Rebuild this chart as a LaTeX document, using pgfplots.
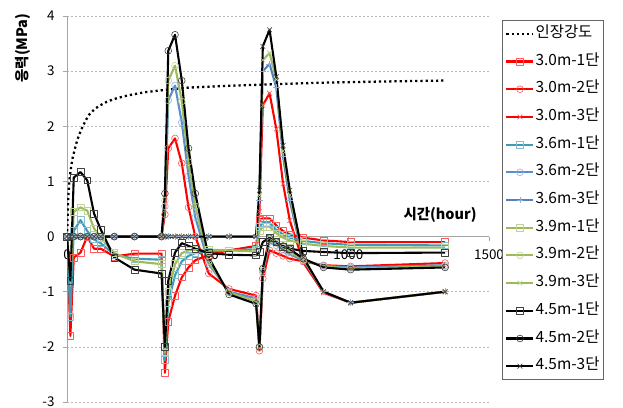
\documentclass[border=0pt]{standalone}
\usepackage{fontspec}
\setmainfont{Noto Sans CJK KR}
\usepackage{pgfplots}
\usepackage{pgfplotstable}
\pgfplotsset{compat=1.18}
\definecolor{cR}{HTML}{FF0000}
\definecolor{cT}{HTML}{3E9BB5}
\definecolor{cB2}{HTML}{5A8ECC}
\definecolor{cB3}{HTML}{4F81BD}
\definecolor{cG}{HTML}{9BBB59}
\definecolor{cK}{HTML}{000000}

\pgfplotstableread{
t     R1     T1     G1     K1     R2     B2     G2     K2     R3     B3     G3     K3
0     0      0      0      0      0      0      0      0      0      0      0      0
12   -1.80  -1.45  -0.80  -0.80   0      0      0      0      0      0      0      0
24   -0.38   0.10   0.45   1.07   0      0      0      0      0      0      0      0
48   -0.29   0.30   0.53   1.17   0      0      0      0      0      0      0      0
72    0.00   0.10   0.47   1.02   0      0      0      0      0      0      0      0
96   -0.22  -0.05   0.15   0.42   0      0      0      0      0      0      0      0
120  -0.22  -0.12  -0.02   0.13   0      0      0      0      0      0      0      0
168  -0.36  -0.33  -0.30  -0.38   0      0      0      0      0      0      0      0
240  -0.31  -0.40  -0.45  -0.60   0      0      0      0      0      0      0      0
336  -0.31  -0.42  -0.50  -0.67   0      0      0      0      0      0      0      0
348  -2.47  -2.24  -2.10  -2.00   0.40   0.55   0.65   0.78   0      0      0      0
360  -1.54  -1.20  -1.00  -0.80   1.60   2.47   2.83   3.37   0      0      0      0
384  -1.07  -0.70  -0.50  -0.29   1.78   2.74   3.10   3.66   0      0      0      0
408  -0.74  -0.45  -0.30  -0.12   1.33   2.07   2.45   2.83   0      0      0      0
432  -0.56  -0.35  -0.25  -0.17   0.53   1.10   1.35   1.60   0      0      0      0
456  -0.43  -0.30  -0.24  -0.22   0.00   0.35   0.55   0.78   0      0      0      0
504  -0.33  -0.27  -0.24  -0.30  -0.67  -0.50  -0.45  -0.38   0      0      0      0
576  -0.25  -0.25  -0.25  -0.33  -0.95  -1.00  -1.02  -1.05   0      0      0      0
672  -0.17  -0.23  -0.27  -0.34  -1.07  -1.12  -1.17  -1.22   0      0      0      0
684   0.30   0.18   0.10  -0.28  -2.07  -2.02  -2.02  -2.00   0.45   0.65   0.75   0.84
696   0.33   0.25   0.18  -0.10  -0.76  -0.65  -0.62  -0.58   2.38   3.00   3.20   3.45
720   0.33   0.25   0.18  -0.02  -0.25  -0.10  -0.06  -0.03   2.60   3.13   3.33   3.75
744   0.20   0.12   0.06  -0.10  -0.30  -0.16  -0.12  -0.10   1.95   2.70   2.85   2.90
768   0.10   0.04  -0.02  -0.18  -0.35  -0.24  -0.20  -0.17   0.96   1.45   1.55   1.65
792   0.04  -0.02  -0.07  -0.22  -0.40  -0.32  -0.28  -0.23   0.29   0.65   0.75   0.84
840  -0.02  -0.08  -0.13  -0.26  -0.45  -0.43  -0.42  -0.40  -0.47  -0.42  -0.40  -0.38
912  -0.07  -0.12  -0.17  -0.28  -0.52  -0.53  -0.54  -0.56  -1.02  -1.00  -1.00  -1.00
1008 -0.10  -0.15  -0.20  -0.30  -0.54  -0.56  -0.58  -0.60  -1.20  -1.20  -1.20  -1.20
1344 -0.10  -0.16  -0.20  -0.29  -0.48  -0.52  -0.54  -0.56  -1.00  -1.00  -1.00  -1.00
}\data

\pgfplotstableread{
t     s
0     0
2     0.30
4     0.67
7     0.90
10    1.09
15    1.28
21    1.45
30    1.63
37    1.76
46    1.88
56    2.00
68    2.12
80    2.22
100   2.32
118   2.38
140   2.44
165   2.49
200   2.54
236   2.58
280   2.62
331   2.65
425   2.70
550   2.73
720   2.76
900   2.79
1100  2.81
1347  2.83
}\strength

\begin{document}
\begin{tikzpicture}
\path[use as bounding box] (-67bp,-6bp) rectangle (556bp,402bp);
\begin{axis}[
  at={(0bp,0bp)}, anchor=south west,
  width=422bp, height=386bp, scale only axis,
  xmin=0, xmax=1500, ymin=-3, ymax=4,
  xtick={0,500,1000,1500}, ytick={-3,-2,-1,0,1,2,3,4},
  axis x line=middle, axis y line=left,
  axis line style={-, draw=gray!70, line width=0.6bp},
  hide obscured x ticks=false, hide obscured y ticks=false,
  tick style={draw=gray!70, line width=0.6bp},
  major tick length=4bp, tick align=outside,
  ymajorgrids, grid style={draw=gray!55, dash pattern=on 2bp off 2bp, line width=0.6bp},
  /pgf/number format/assume math mode=true,
  /pgf/number format/set thousands separator={},
  ticklabel style={font=\fontsize{13.5}{15}\selectfont},
  yticklabel style={xshift=-5bp},
  xticklabel style={yshift=-6bp},
  xlabel={시간(hour)},
  xlabel style={at={(axis description cs:0.884,0.4845)}, anchor=center, font=\bfseries\fontsize{14.5}{16}\selectfont},
  ylabel={응력(MPa)},
  ylabel style={at={(axis description cs:-0.104,1.0155)}, rotate=0, anchor=east, font=\bfseries\fontsize{14.5}{16}\selectfont},
  legend style={at={(axis description cs:1,1)}, anchor=north west, xshift=13bp, yshift=-4bp,
    draw=gray!80!black, line width=0.6bp, font=\fontsize{15.5}{17}\selectfont,
    inner xsep=3bp, inner ysep=6bp, row sep=12.7bp,
    nodes={inner sep=1bp, text height=10bp, text depth=3bp}},
  legend cell align=left,
  legend image code/.code={\draw[mark repeat=2,mark phase=2] plot coordinates {(0bp,0bp) (13.5bp,0bp) (27bp,0bp)};},
  every axis plot/.append style={line width=2.1bp, line join=round},
  mark size=3.4bp,
]
\addplot[black, line width=2.3bp, dash pattern=on 2.2bp off 3bp] table[x=t,y=s]{\strength};
\addlegendentry{인장강도}
\addplot[cR, mark=square, mark options={solid, draw=cR!65, fill=none, line width=0.6bp}] table[x=t,y=R1]{\data};
\addlegendentry{3.0m-1단}
\addplot[cR, mark=o, mark options={solid, draw=cR!65, fill=none, line width=0.6bp}] table[x=t,y=R2]{\data};
\addlegendentry{3.0m-2단}
\addplot[cR, mark=x, mark options={solid, draw=cR!65, fill=none, line width=0.6bp}] table[x=t,y=R3]{\data};
\addlegendentry{3.0m-3단}
\addplot[cT, mark=square, mark options={solid, draw=cT!65, fill=none, line width=0.6bp}] table[x=t,y=T1]{\data};
\addlegendentry{3.6m-1단}
\addplot[cB2, mark=o, mark options={solid, draw=cB2!65, fill=none, line width=0.6bp}] table[x=t,y=B2]{\data};
\addlegendentry{3.6m-2단}
\addplot[cB3, mark=+, mark options={solid, draw=cB3!65, fill=none, line width=0.6bp}] table[x=t,y=B3]{\data};
\addlegendentry{3.6m-3단}
\addplot[cG, mark=square, mark options={solid, draw=cG!65, fill=none, line width=0.6bp}] table[x=t,y=G1]{\data};
\addlegendentry{3.9m-1단}
\addplot[cG, mark=o, mark options={solid, draw=cG!65, fill=none, line width=0.6bp}] table[x=t,y=G2]{\data};
\addlegendentry{3.9m-2단}
\addplot[cG, mark=x, mark options={solid, draw=cG!65, fill=none, line width=0.6bp}] table[x=t,y=G3]{\data};
\addlegendentry{3.9m-3단}
\addplot[cK, mark=square, mark options={solid, draw=black!75, fill=none, line width=0.6bp}] table[x=t,y=K1]{\data};
\addlegendentry{4.5m-1단}
\addplot[cK, mark=o, mark options={solid, draw=black!75, fill=none, line width=0.6bp}] table[x=t,y=K2]{\data};
\addlegendentry{4.5m-2단}
\addplot[cK, mark=x, mark options={solid, draw=black!75, fill=none, line width=0.6bp}] table[x=t,y=K3]{\data};
\addlegendentry{4.5m-3단}
\end{axis}
\end{tikzpicture}
\end{document}
